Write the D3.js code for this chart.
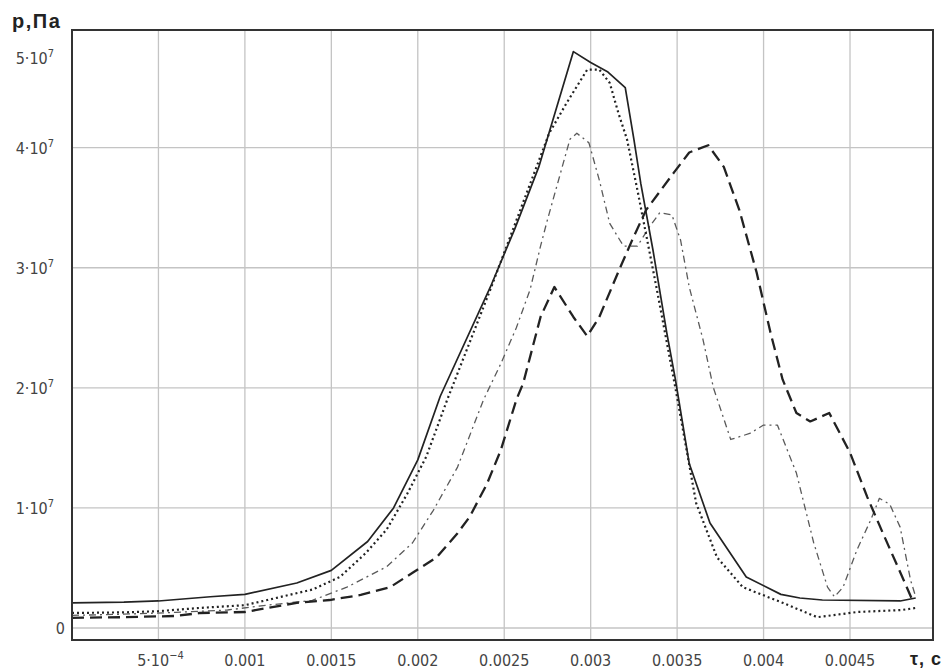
<!DOCTYPE html>
<html><head><meta charset="utf-8">
<script src="https://cdn.jsdelivr.net/npm/d3@7"></script>
<style>
html,body{margin:0;padding:0;background:#fff;}
svg{display:block;}
.tick-label{font-family:"Liberation Sans Narrow","Arial Narrow","DejaVu Sans Condensed",sans-serif;font-size:16px;fill:#444;}
</style></head>
<body>
<script>
// ---- data (time in s, pressure in Pa) ----
const tSolid = [0,0.0003,0.0005,0.0008,0.001,0.0013,0.0015,0.00171,0.00186,0.002,0.00213,0.00242,0.00256,0.0027,0.0029,0.003,0.0031,0.0032,0.00325,0.00329,0.00336,0.00344,0.00349,0.00357,0.00369,0.0039,0.0041,0.00421,0.00434,0.00479,0.00488];
const pSolid = [2.1e6,2.15e6,2.25e6,2.6e6,2.8e6,3.75e6,4.8e6,7.2e6,1.0e7,1.4e7,1.93e7,2.84e7,3.32e7,3.84e7,4.8e7,4.71e7,4.63e7,4.5e7,4.07e7,3.7e7,3.15e7,2.46e7,2.07e7,1.37e7,8.75e6,4.25e6,2.8e6,2.5e6,2.33e6,2.25e6,2.5e6];

const tDot = [0,0.0003,0.0005,0.00074,0.001,0.00113,0.00139,0.00155,0.0017,0.00182,0.00194,0.00205,0.00217,0.00242,0.00276,0.00286,0.00298,0.00305,0.00311,0.00316,0.00321,0.00327,0.00338,0.00349,0.00361,0.00373,0.00388,0.00411,0.00431,0.00442,0.00454,0.0048,0.00488];
const pDot = [1.25e6,1.3e6,1.4e6,1.67e6,1.9e6,2.33e6,3.2e6,4.25e6,6.25e6,8.2e6,1.12e7,1.43e7,1.9e7,2.82e7,4.12e7,4.37e7,4.65e7,4.65e7,4.54e7,4.29e7,4.07e7,3.65e7,2.84e7,2.0e7,1.04e7,5.9e6,3.4e6,2.1e6,9e5,1.1e6,1.33e6,1.5e6,1.67e6];

const tDashDot = [0,0.0003,0.0006,0.0009,0.00113,0.00139,0.00159,0.00182,0.00197,0.00209,0.00223,0.00238,0.00248,0.00257,0.00265,0.00271,0.00275,0.00282,0.00288,0.00292,0.00299,0.00305,0.00311,0.00319,0.00327,0.00334,0.0034,0.00347,0.00352,0.00357,0.00365,0.00371,0.00381,0.00392,0.004,0.00408,0.00419,0.00429,0.00437,0.00441,0.00446,0.00454,0.00462,0.00467,0.00473,0.00479,0.00485,0.00488];
const pDashDot = [1.05e6,1.15e6,1.3e6,1.5e6,1.9e6,2.3e6,3.4e6,5.1e6,7.1e6,9.8e6,1.34e7,1.9e7,2.2e7,2.5e7,2.82e7,3.18e7,3.4e7,3.76e7,4.07e7,4.12e7,4.04e7,3.73e7,3.37e7,3.18e7,3.18e7,3.34e7,3.46e7,3.44e7,3.23e7,2.84e7,2.4e7,2.0e7,1.57e7,1.62e7,1.69e7,1.69e7,1.29e7,7.1e6,3.4e6,2.6e6,3.4e6,6.5e6,9e6,1.08e7,1.03e7,8.4e6,4e6,2.6e6];

const tDash = [0,0.0003,0.0006,0.00074,0.001,0.0013,0.00149,0.00167,0.00184,0.00197,0.00211,0.00223,0.0023,0.0024,0.00248,0.00257,0.00261,0.00271,0.00279,0.0029,0.00298,0.00305,0.00317,0.00324,0.00332,0.00348,0.00357,0.00368,0.00377,0.00386,0.00396,0.00404,0.00411,0.00419,0.00427,0.00438,0.0045,0.0046,0.00469,0.00481,0.00486];
const pDash = [0.85e6,0.9e6,1.0e6,1.25e6,1.33e6,2.1e6,2.33e6,2.75e6,3.4e6,4.6e6,5.9e6,7.9e6,9.25e6,1.2e7,1.48e7,1.9e7,2.04e7,2.59e7,2.84e7,2.59e7,2.43e7,2.59e7,3.0e7,3.23e7,3.48e7,3.79e7,3.96e7,4.02e7,3.84e7,3.48e7,2.96e7,2.46e7,2.07e7,1.79e7,1.72e7,1.79e7,1.46e7,1.09e7,7.9e6,4e6,2.33e6];

const xTicks = [0.0005,0.001,0.0015,0.002,0.0025,0.003,0.0035,0.004,0.0045];
const xTickLabels = ["5·10|−4","0.001","0.0015","0.002","0.0025","0.003","0.0035","0.004","0.0045"];
const yTicks = [0,1e7,2e7,3e7,4e7,5e7];
const yTickLabels = ["0","1·10|7","2·10|7","3·10|7","4·10|7","5·10|7"];
const yAxisTitle = "р,Па";
const xAxisTitle = "τ, с";

// ---- layout ----
const W = 945, H = 669;
const margin = {left:72, top:30, right:12, bottom:29};
const x = d3.scaleLinear().domain([0, 0.00498]).range([margin.left, W - margin.right]);
const y = d3.scaleLinear().domain([-1e6, 4.98e7]).range([H - margin.bottom, margin.top]);

const svg = d3.select("body").append("svg").attr("width", W).attr("height", H);

// grid
const grid = svg.append("g").attr("stroke", "#c4c4c4").attr("stroke-width", 1.3);
grid.selectAll("line.v").data(xTicks).join("line")
  .attr("x1", d => x(d)).attr("x2", d => x(d))
  .attr("y1", y.range()[1]).attr("y2", y.range()[0]);
grid.selectAll("line.h").data(yTicks.filter(d => y(d) > y.range()[1])).join("line")
  .attr("y1", d => y(d)).attr("y2", d => y(d))
  .attr("x1", x.range()[0]).attr("x2", x.range()[1]);

// series
const series = [
  {t: tDashDot, p: pDashDot, stroke:"#5a5a5a", width:1.3, dash:"7,4,2,4"},
  {t: tDash, p: pDash, stroke:"#222", width:2.3, dash:"12,6"},
  {t: tDot, p: pDot, stroke:"#222", width:2.2, dash:"2,3"},
  {t: tSolid, p: pSolid, stroke:"#222", width:1.7, dash:null}
];
const line = d3.line().x(d => x(d[0])).y(d => y(d[1]));
series.forEach(s => {
  svg.append("path")
    .attr("d", line(s.t.map((t,i) => [t, s.p[i]])))
    .attr("fill", "none").attr("stroke", s.stroke).attr("stroke-width", s.width)
    .attr("stroke-dasharray", s.dash).attr("stroke-linejoin", "round");
});

// frame
svg.append("rect")
  .attr("x", x.range()[0]).attr("y", y.range()[1])
  .attr("width", x.range()[1] - x.range()[0]).attr("height", y.range()[0] - y.range()[1])
  .attr("fill", "none").attr("stroke", "#333").attr("stroke-width", 2);

function writeLabel(sel, txt){
  const parts = txt.split("|");
  sel.append("tspan").text(parts[0]);
  if (parts[1]) sel.append("tspan").attr("font-size", "11px").attr("dy", -7).text(parts[1]);
}

// x tick labels
xTicks.forEach((d,i) => {
  const t = svg.append("text").attr("class","tick-label")
    .attr("x", x(d) + (i === 0 ? 2 : 0)).attr("y", H - 3).attr("text-anchor","middle");
  writeLabel(t, xTickLabels[i]);
});

// y tick labels
yTicks.forEach((d,i) => {
  const isTop = y(d) < y.range()[1] + 5;
  const t = svg.append("text").attr("class","tick-label")
    .attr("x", d === 0 ? margin.left - 7 : margin.left - 18)
    .attr("y", (isTop ? y.range()[1] + 28 : y(d)) + 6)
    .attr("text-anchor","end");
  writeLabel(t, yTickLabels[i]);
});

// axis titles
svg.append("text").attr("x", 12).attr("y", 28)
  .attr("font-family","Liberation Sans, Arial, sans-serif").attr("font-weight","bold")
  .attr("font-size","20px").attr("letter-spacing","1.5px").attr("fill","#222").text(yAxisTitle);
svg.append("text").attr("x", W - 3).attr("y", H - 4).attr("text-anchor","end")
  .attr("font-family","Liberation Sans, Arial, sans-serif").attr("font-weight","bold")
  .attr("font-size","18px").attr("letter-spacing","1px").attr("fill","#222").text(xAxisTitle);
</script>
</body></html>
